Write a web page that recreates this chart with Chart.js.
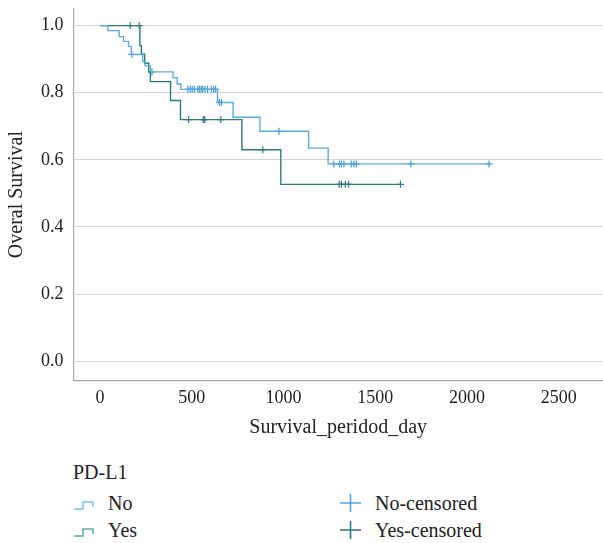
<!DOCTYPE html>
<html>
<head>
<meta charset="utf-8">
<script src="https://cdn.jsdelivr.net/npm/chart.js@4.4.1/dist/chart.umd.min.js"></script>
<style>
  body { margin: 0; background: #fff; font-family: "Liberation Serif", serif; color: #222; overflow: hidden; }
  #wrap { position: relative; width: 603px; height: 543px; overflow: hidden; }
  #chartBox { position: absolute; left: 0; top: -12px; width: 608px; height: 452px; }
  .leg { position: absolute; font-size: 20px; line-height: 22px; white-space: nowrap; }
  .leg svg { position: absolute; }
</style>
</head>
<body>
<div id="wrap">
  <div id="chartBox"><canvas id="kmChart"></canvas></div>
  <div class="leg" style="left:73px; top:461px;">PD-L1</div>
  <div class="leg" style="left:74px; top:492px;">
    <svg width="24" height="14" style="left:0; top:6px;"><path d="M0 11 H9 V4 H19 V9" fill="none" stroke="#7fc2ec" stroke-width="1.6"/></svg>
    <span style="margin-left:34px;">No</span>
  </div>
  <div class="leg" style="left:74px; top:519px;">
    <svg width="24" height="14" style="left:0; top:6px;"><path d="M0 11 H9 V4 H19 V9" fill="none" stroke="#6aa9a5" stroke-width="1.6"/></svg>
    <span style="margin-left:34px;">Yes</span>
  </div>
  <div class="leg" style="left:340px; top:492px;">
    <svg width="22" height="18" style="left:0; top:2px;"><path d="M0 9 H21 M10.5 0 V18" fill="none" stroke="#4ea5dc" stroke-width="1.6"/></svg>
    <span style="margin-left:35px;">No-censored</span>
  </div>
  <div class="leg" style="left:340px; top:519px;">
    <svg width="22" height="18" style="left:0; top:2px;"><path d="M0 9 H21 M10.5 0 V18" fill="none" stroke="#2b7c78" stroke-width="1.6"/></svg>
    <span style="margin-left:35px;">Yes-censored</span>
  </div>
</div>
<script>
// Kaplan-Meier steps (day, survival)
const noDays = [0, 42, 104, 128, 155, 170, 232, 245, 275, 397, 420, 440, 640, 725, 871, 1137, 1243, 2120];
const noSurv = [1.0, 0.985, 0.967, 0.953, 0.938, 0.914, 0.893, 0.880, 0.862, 0.845, 0.826, 0.810, 0.771, 0.727, 0.685, 0.635, 0.588, 0.588];
const noCensored = [173, 283, 478, 491, 502, 514, 533, 541, 550, 559, 571, 586, 606, 619, 630, 650, 661, 975,
  1274, 1304, 1315, 1329, 1369, 1383, 1396, 1694, 2120];

const yesDays = [0, 217, 225, 243, 265, 274, 384, 438, 773, 985, 1637];
const yesSurv = [1.0, 0.940, 0.915, 0.888, 0.862, 0.833, 0.777, 0.720, 0.630, 0.527, 0.527];
const yesCensored = [164, 213, 483, 562, 570, 658, 887, 1303, 1315, 1337, 1355, 1637];

const xTicks = [0, 500, 1000, 1500, 2000, 2500];
const yTicks = [0, 0.2, 0.4, 0.6, 0.8, 1.0];

const noColor = '#5aade0';
const yesColor = '#2b7c78';

function stepPoints(days, surv) {
  return days.map((d, i) => ({ x: d, y: surv[i] }));
}
// survival value of the curve at a censoring time
function censorPoints(days, surv, cens) {
  return cens.map(t => {
    let s = surv[0];
    for (let i = 0; i < days.length; i++) if (days[i] <= t) s = surv[i];
    return { x: t, y: s };
  });
}

const serif = "'Liberation Serif', serif";

new Chart('kmChart', {
  type: 'scatter',
  data: {
    datasets: [
      { label: 'No', type: 'line', data: stepPoints(noDays, noSurv), stepped: true,
        borderColor: noColor, borderWidth: 1.4, pointRadius: 0, fill: false },
      { label: 'Yes', type: 'line', data: stepPoints(yesDays, yesSurv), stepped: true,
        borderColor: yesColor, borderWidth: 1.4, pointRadius: 0, fill: false },
      { label: 'No-censored', data: censorPoints(noDays, noSurv, noCensored),
        pointStyle: 'cross', pointRadius: 3.5, borderColor: '#3f9bd4', borderWidth: 1.2 },
      { label: 'Yes-censored', data: censorPoints(yesDays, yesSurv, yesCensored),
        pointStyle: 'cross', pointRadius: 3.5, borderColor: yesColor, borderWidth: 1.2 }
    ]
  },
  options: {
    responsive: true,
    maintainAspectRatio: false,
    animation: false,
    layout: { padding: { top: 0, left: 5, right: 0, bottom: 0 } },
    plugins: { legend: { display: false }, tooltip: { enabled: false } },
    scales: {
      x: {
        type: 'linear', min: -145, max: 2740,
        afterBuildTicks: s => { s.ticks = xTicks.map(v => ({ value: v })); },
        grid: { color: 'rgba(0,0,0,0)', drawTicks: false },
        border: { color: '#a8a8a8', width: 1.2 },
        ticks: { padding: 7, color: '#222', font: { family: serif, size: 18 },
          callback: v => String(v) },
        title: { display: true, text: 'Survival_peridod_day', color: '#222',
          font: { family: serif, size: 20 }, padding: { top: 0, bottom: 0 } }
      },
      y: {
        type: 'linear', min: -0.057, max: 1.05,
        afterBuildTicks: s => { s.ticks = yTicks.map(v => ({ value: v })); },
        grid: { color: '#d4d4d4', drawTicks: false, lineWidth: 1 },
        border: { color: '#a8a8a8', width: 1.2 },
        ticks: { padding: 10, color: '#222', font: { family: serif, size: 18 },
          callback: v => v.toFixed(1) },
        title: { display: true, text: 'Overal Survival', color: '#222',
          font: { family: serif, size: 20 }, padding: { top: 0, bottom: 2 } }
      }
    }
  }
});
</script>
</body>
</html>
